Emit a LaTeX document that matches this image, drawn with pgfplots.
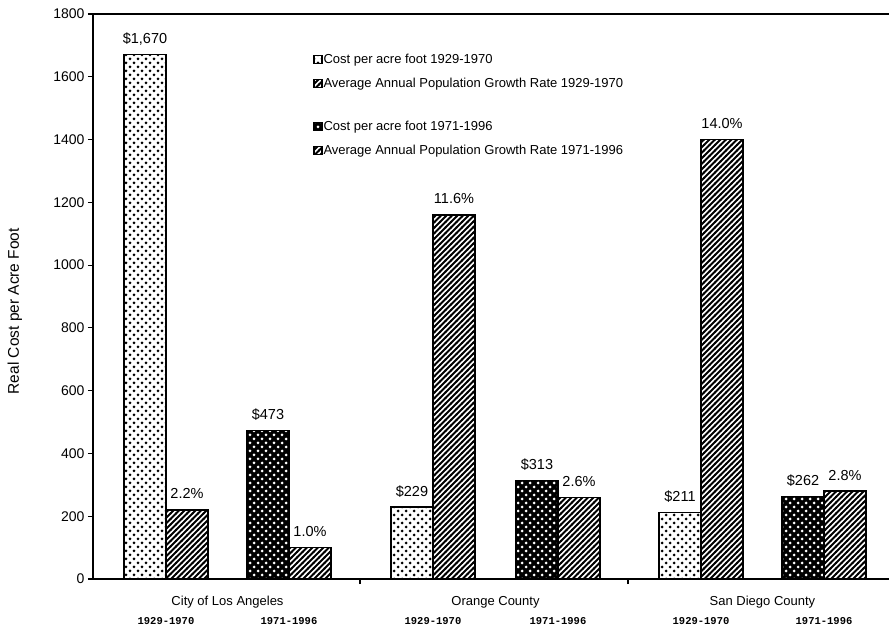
\documentclass[border=0pt]{standalone}
\usepackage{fontspec}
\setmainfont{Liberation Sans}
\newfontfamily\yearfont{Liberation Mono}
\usepackage{pgfplots}
\pgfplotsset{compat=1.18}
\usetikzlibrary{patterns}

% staggered dot screen used for the cost bars
\pgfdeclarepatternformonly{stagdots}{\pgfqpoint{-1pt}{-1pt}}{\pgfqpoint{9pt}{9pt}}{\pgfqpoint{8pt}{8pt}}{%
  \pgfpathcircle{\pgfqpoint{2pt}{2pt}}{1.5pt}%
  \pgfpathcircle{\pgfqpoint{6pt}{6pt}}{1.5pt}%
  \pgfusepath{fill}}

% wide diagonal hatching used for the growth-rate bars
\pgfdeclarepatternformonly{widehatch}{\pgfqpoint{-1pt}{-1pt}}{\pgfqpoint{6.5pt}{6.5pt}}{\pgfqpoint{5.5pt}{5.5pt}}{%
  \pgfsetlinewidth{1.8pt}%
  \pgfpathmoveto{\pgfqpoint{-0.5pt}{-0.5pt}}%
  \pgfpathlineto{\pgfqpoint{6pt}{6pt}}%
  \pgfusepath{stroke}}

\tikzset{
  costold/.style={draw=black, line width=1.3pt, pattern=stagdots, pattern color=black},
  costnew/.style={draw=black, line width=1.3pt, fill=black, postaction={pattern=stagdots, pattern color=white}},
  growth/.style={draw=black, line width=1.3pt, pattern=widehatch, pattern color=black},
}

\begin{document}
\begin{tikzpicture}
\begin{axis}[
  at={(0pt,0pt)}, anchor=south west,
  scale only axis, width=796pt, height=565pt,
  xmin=93, xmax=889, ymin=0, ymax=1800,
  axis x line*=bottom, axis y line*=left,
  axis line style={line width=1.6pt},
  ybar, bar width=42pt,
  ytick={0,200,...,1800},
  ytick pos=left, tick align=outside,
  major tick length=5pt, minor tick length=5pt,
  tick style={line width=1.2pt, black},
  major x tick style={draw=none},
  /pgf/number format/assume math mode=true,
  /pgf/number format/set thousands separator={},
  yticklabel style={font=\fontsize{14}{16}\selectfont},
  xtick={166,289,433,558,701,824},
  xticklabels={1929-1970,1971-1996,1929-1970,1971-1996,1929-1970,1971-1996},
  minor xtick={360,628},
  xticklabel style={font=\yearfont\bfseries\fontsize{10.5}{12}\selectfont, anchor=center, yshift=-37pt},
  extra x ticks={227.5,495.5,762.5},
  extra x tick labels={City of Los Angeles,Orange County,San Diego County},
  extra x tick style={major x tick style={draw=none},
    every x tick label/.style={font=\fontsize{13}{15}\selectfont, anchor=center, yshift=-18pt}},
  ylabel={Real Cost per Acre Foot},
  ylabel style={at={(axis description cs:-0.098,0.474)}, anchor=center, font=\fontsize{15.5}{17}\selectfont},
  point meta=explicit symbolic,
  nodes near coords={\pgfplotspointmeta},
  every node near coord/.append style={font=\fontsize{14.5}{16}\selectfont, inner sep=0pt, anchor=base, yshift=11pt, black},
  legend image code/.code={\draw[#1] (0pt,-4pt) rectangle (8pt,4pt);},
  legend cell align=left,
  legend style={at={(axis cs:310,1685)}, anchor=north west, draw=none, fill=none,
    font=\fontsize{13}{15}\selectfont, row sep=9pt, column sep=0pt,
    nodes={inner sep=1pt, text height=10pt, text depth=3pt}},
  clip=false,
]
% 1929-1970 cost per acre foot
\addplot[costold, bar shift=-21pt] coordinates {
  (166,1670) [\$1,670]
  (433,229)  [\$229]
  (701,211)  [\$211]
};
\addlegendentry{Cost per acre foot 1929-1970}
% 1929-1970 growth rate (percent x 100)
\addplot[growth, bar shift=21pt] coordinates {
  (166,220)  [2.2\%]
  (433,1160) [11.6\%]
  (701,1400) [14.0\%]
};
\addlegendentry{Average Annual Population Growth Rate 1929-1970}
\addlegendimage{empty legend}
\addlegendentry[text height=8pt, text depth=0pt]{}
% 1971-1996 cost per acre foot
\addplot[costnew, bar shift=-21pt] coordinates {
  (289,473) [\$473]
  (558,313) [\$313]
  (824,262) [\$262]
};
\addlegendentry{Cost per acre foot 1971-1996}
% 1971-1996 growth rate (percent x 100)
\addplot[growth, bar shift=21pt] coordinates {
  (289,100) [1.0\%]
  (558,260) [2.6\%]
  (824,280) [2.8\%]
};
\addlegendentry{Average Annual Population Growth Rate 1971-1996}
% top frame line
\draw[line width=1.6pt] (rel axis cs:0,1) -- (rel axis cs:1,1);
\end{axis}
\pgfresetboundingbox
\useasboundingbox (-93pt,-50pt) rectangle (796pt,579pt);
\end{tikzpicture}
\end{document}
